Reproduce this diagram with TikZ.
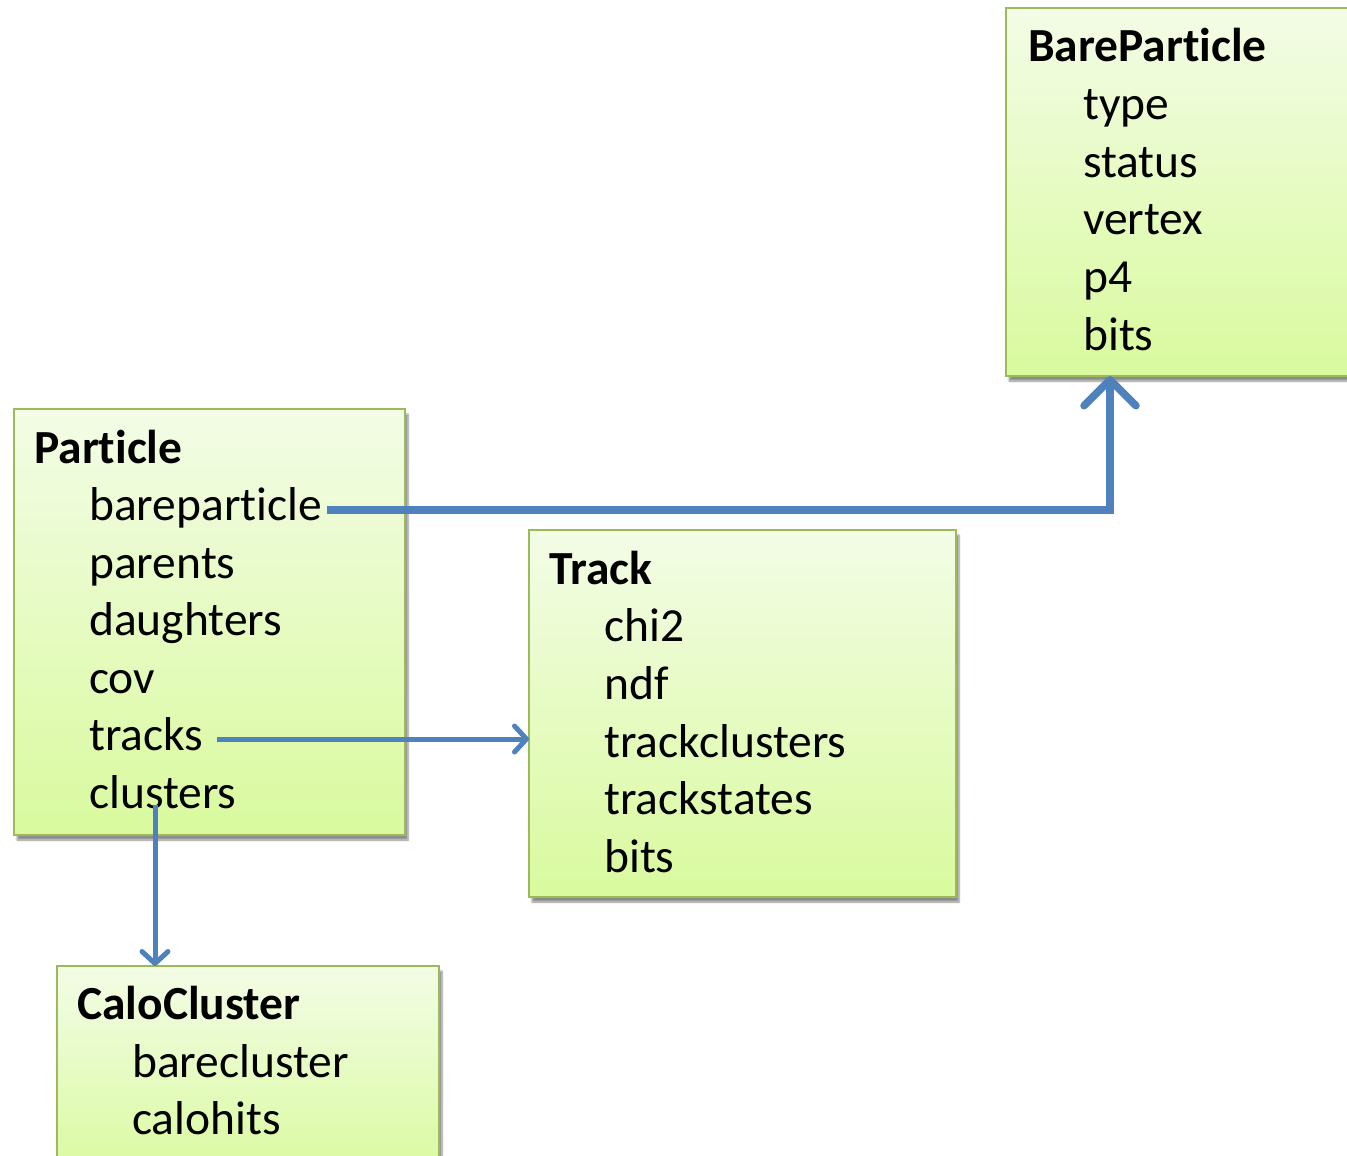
\documentclass[tikz,border=0pt]{standalone}
\usepackage{fontspec}
\setmainfont{Carlito}[RawFeature={-liga;-calt;-clig}]
\usetikzlibrary{arrows.meta,calc,shadows.blur}
\definecolor{boxline}{RGB}{155,187,89}
\definecolor{boxtop}{RGB}{243,252,230}
\definecolor{boxbot}{RGB}{217,250,158}
\definecolor{link}{RGB}{79,129,189}
\begin{document}
\begin{tikzpicture}[x=1pt,y=-1pt,
  classbox/.style={draw=boxline,line width=2pt,top color=boxtop,bottom color=boxbot,
    blur shadow={shadow xshift=3pt,shadow yshift=-5pt,shadow blur steps=6,shadow opacity=45}},
  title/.style={anchor=base west,inner sep=0pt,font=\fontsize{47.5}{57}\selectfont\bfseries},
  field/.style={anchor=base west,inner sep=0pt,font=\fontsize{47.5}{57}\selectfont},
  thinlink/.style={draw=link,line width=5pt,-{Straight Barb[length=12pt,width=26pt,line width=5pt,round]}},
  thicklink/.style={draw=link,line width=8pt,-{Straight Barb[length=26pt,width=52pt,line width=7.5pt,round]}}]
\useasboundingbox (0,0) rectangle (1347,1156);
\clip (0,0) rectangle (1347,1156);

% class boxes
\path[classbox] (1006,8) rectangle (1370,376);
\coordinate (BPbox) at (1006,376);
\path[classbox] (14,409) rectangle (405,835);
\path[classbox] (529,530) rectangle (956,897);
\coordinate (TRbox) at (529,739);
\path[classbox] (57,966) rectangle (439,1180);
\coordinate (CCbox) at (155,966);

% BareParticle
\node[title] (bpt) at (1028,62) {BareParticle};
\node[field] (bp1) at (1083,119) {type};
\node[field] (bp2) at (1083,177) {status};
\node[field] (bp3) at (1083,234) {vertex};
\node[field] (bp4) at (1083,292) {p4};
\node[field] (bp5) at (1083,350) {bits};

% Particle
\node[title] (pt) at (34,463) {Particle};
\node[field] (p1) at (89,520) {bareparticle};
\node[field] (p2) at (89,578) {parents};
\node[field] (p3) at (89,635) {daughters};
\node[field] (p4) at (89,693) {cov};
\node[field] (p5) at (89,750) {tracks};
\node[field] (p6) at (89,808) {clusters};

% Track
\node[title] (tt) at (549,584) {Track};
\node[field] (t1) at (604,641) {chi2};
\node[field] (t2) at (604,699) {ndf};
\node[field] (t3) at (604,757) {trackclusters};
\node[field] (t4) at (604,814) {trackstates};
\node[field] (t5) at (604,872) {bits};

% CaloCluster
\node[title] (ct) at (77,1019) {CaloCluster};
\node[field] (c1) at (132,1077) {barecluster};
\node[field] (c2) at (132,1134) {calohits};

% references
\coordinate (bpstart) at ($(p1.base east)+(5,-10)$);
\coordinate (bpend) at ($(BPbox)+(104,0)$);
\draw[thicklink] (bpstart) -| (bpend);
\coordinate (trstart) at ($(p5.base east)+(14,-11)$);
\draw[thinlink] (trstart) -- (TRbox);
\coordinate (ccstart) at (155,805);
\draw[thinlink] (ccstart) -- (CCbox);
\end{tikzpicture}
\end{document}
